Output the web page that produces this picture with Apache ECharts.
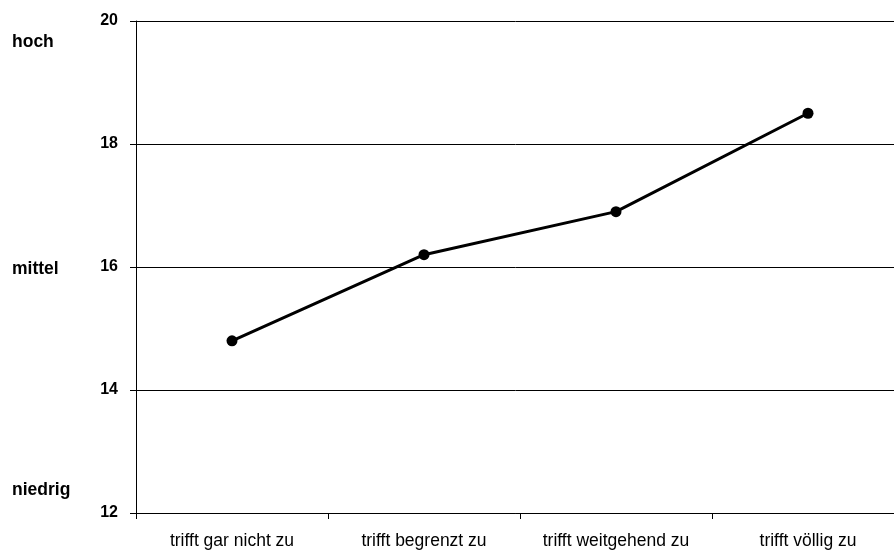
<!DOCTYPE html>
<html>
<head>
<meta charset="utf-8">
<script src="https://cdn.jsdelivr.net/npm/echarts@6/dist/echarts.min.js"></script>
<style>
html,body{margin:0;padding:0;background:#fff;}
#chart{width:894px;height:553px;}
</style>
</head>
<body>
<div id="chart"></div>
<script>
const categories = ["trifft gar nicht zu", "trifft begrenzt zu", "trifft weitgehend zu", "trifft völlig zu"];
const values = [14.8, 16.2, 16.9, 18.5];
const levelLabels = ["hoch", "mittel", "niedrig"];
const levelValues = [19.66, 15.97, 12.37];

const chart = echarts.init(document.getElementById('chart'), null, {renderer: 'canvas'});
const FONT = '"Liberation Sans", Arial, sans-serif';

const option = {
  animation: false,
  backgroundColor: '#fff',
  grid: {left: 136, top: 21, width: 768, height: 492, containLabel: false, outerBoundsMode: 'none'},
  xAxis: {
    type: 'category',
    data: categories,
    boundaryGap: true,
    axisLine: {show: true, lineStyle: {color: '#000', width: 1}},
    axisTick: {show: true, length: 6, lineStyle: {color: '#000'}},
    axisLabel: {color: '#000', fontSize: 17.5, fontFamily: FONT, margin: 19, interval: 0},
    splitLine: {show: false}
  },
  yAxis: {
    type: 'value',
    min: 12, max: 20, interval: 2,
    axisLine: {show: true, lineStyle: {color: '#000', width: 1}},
    axisTick: {show: true, length: 6, lineStyle: {color: '#000'}},
    axisLabel: {color: '#000', fontSize: 16, fontWeight: 'bold', fontFamily: FONT, margin: 18},
    splitLine: {show: true, lineStyle: {color: '#000', width: 1}}
  },
  series: [{
    type: 'line',
    data: values,
    symbol: 'circle',
    symbolSize: 11,
    lineStyle: {color: '#000', width: 3},
    itemStyle: {color: '#000'},
    z: 5
  }]
};
chart.setOption(option);

const graphics = levelLabels.map((t, i) => {
  const py = chart.convertToPixel({yAxisIndex: 0}, levelValues[i]);
  return {
    type: 'text', x: 12, y: py,
    style: {text: t, fill: '#000', font: 'bold 17.5px ' + FONT, verticalAlign: 'middle', align: 'left'}
  };
});
chart.setOption({graphic: graphics});
</script>
</body>
</html>
